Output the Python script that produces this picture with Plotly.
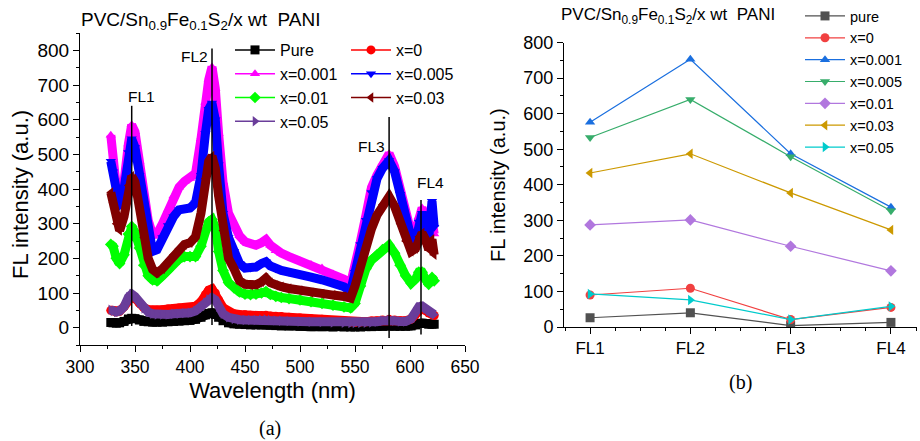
import plotly.graph_objects as go

# ---------------- data: panel (a) spectra ----------------
WAVELENGTH = [328, 330, 333, 336, 340, 344, 347, 350, 354, 358, 362, 366, 370, 375, 380,
              385, 390, 395, 400, 405, 410, 414, 417, 420, 423, 426, 430, 435, 440, 445,
              450, 455, 460, 465, 469, 473, 478, 483, 490, 500, 510, 520, 530, 540, 546,
              550, 555, 560, 565, 570, 575, 581, 586, 591, 596, 601, 605, 608, 611, 614,
              617, 620, 622]

PURE = [15, 14, 13, 14, 18, 25, 27, 26, 22, 18, 17, 16, 16, 16, 17,
        18, 19, 20, 21, 24, 30, 37, 41, 43, 38, 30, 20, 14, 11, 10,
        9, 8, 8, 8, 8, 7, 6, 5, 5, 4, 3, 3, 2, 2, 2,
        2, 2, 3, 3, 4, 4, 5, 4, 4, 4, 5, 8, 12, 13, 12,
        10, 10, 10]
X0 = [50, 48, 45, 48, 60, 82, 90, 85, 70, 58, 52, 50, 50, 52, 54,
      55, 57, 58, 58, 62, 75, 95, 108, 112, 100, 80, 58, 45, 40, 38,
      37, 36, 35, 35, 36, 34, 33, 32, 30, 28, 26, 24, 21, 18, 16,
      15, 16, 17, 19, 20, 22, 24, 22, 20, 20, 25, 38, 52, 56, 50,
      42, 38, 35]
X0001 = [555, 490, 405, 365, 420, 530, 585, 565, 480, 380, 310, 268, 270, 300, 340,
         380, 405, 422, 430, 445, 545, 650, 715, 752, 690, 560, 420, 330, 295, 265,
         248, 240, 238, 245, 254, 238, 222, 215, 205, 192, 182, 172, 155, 140, 127,
         175, 250, 325, 405, 440, 475, 502, 465, 400, 325, 275, 280, 320, 345, 325,
         285, 310, 270]
X0005 = [480, 450, 390, 350, 400, 505, 545, 520, 440, 340, 265, 220, 225, 260, 295,
         320, 340, 345, 345, 360, 440, 560, 630, 648, 600, 470, 330, 260, 220, 185,
         172, 172, 175, 185, 190, 178, 170, 165, 160, 155, 146, 138, 130, 118, 105,
         160, 240, 310, 390, 430, 460, 482, 450, 385, 310, 260, 250, 305, 330, 305,
         255, 365, 290]
X001 = [240, 235, 200, 185, 210, 270, 292, 275, 230, 180, 150, 138, 135, 150, 165,
        185, 198, 205, 205, 205, 235, 280, 305, 312, 290, 220, 165, 130, 115, 103,
        97, 95, 97, 100, 104, 96, 90, 87, 84, 80, 75, 70, 65, 60, 57,
        70, 120, 170, 195, 210, 225, 238, 215, 180, 150, 128, 140, 160, 160, 140,
        125, 145, 135]
X003 = [390, 360, 300, 280, 320, 410, 437, 420, 350, 260, 200, 168, 158, 170, 190,
        210, 228, 240, 245, 262, 330, 430, 480, 495, 460, 380, 280, 200, 170, 135,
        125, 122, 124, 132, 143, 130, 122, 118, 113, 107, 101, 97, 94, 90, 85,
        120, 180, 225, 285, 325, 355, 378, 350, 300, 250, 220, 228, 262, 273, 255,
        225, 255, 210]
X005 = [52, 48, 45, 48, 60, 88, 97, 90, 72, 55, 45, 40, 38, 38, 38,
        40, 40, 42, 43, 48, 60, 72, 82, 86, 80, 60, 40, 30, 25, 23,
        22, 22, 22, 23, 24, 22, 21, 20, 19, 18, 17, 16, 15, 14, 13,
        13, 13, 14, 15, 17, 20, 22, 20, 18, 18, 25, 45, 60, 62, 55,
        48, 42, 38]

SERIES_A_NAMES = ["Pure", "x=0", "x=0.001", "x=0.005", "x=0.01", "x=0.03", "x=0.05"]
SERIES_A = [PURE, X0, X0001, X0005, X001, X003, X005]

FL_PEAK_NM = [347, 420, 581, 610]
FL_LABELS = ["FL1", "FL2", "FL3", "FL4"]

# ---------------- data: panel (b) peak intensities ----------------
CATS = ["FL1", "FL2", "FL3", "FL4"]
B_PURE = [26, 40, 4, 13]
B_X0 = [90, 109, 21, 55]
B_X0001 = [576, 753, 487, 337]
B_X0005 = [533, 640, 479, 327]
B_X001 = [287, 301, 227, 158]
B_X003 = [433, 487, 377, 273]
B_X005 = [93, 76, 21, 58]
SERIES_B_NAMES = ["pure", "x=0", "x=0.001", "x=0.005", "x=0.01", "x=0.03", "x=0.05"]
SERIES_B = [B_PURE, B_X0, B_X0001, B_X0005, B_X001, B_X003, B_X005]

# ---------------- styles ----------------
A_COLORS = ["#000000", "#ff0000", "#ff00ff", "#0000ff", "#00ff00", "#800000", "#6a3d9a"]
A_SYMBOLS = ["square", "circle", "triangle-up", "triangle-down", "diamond", "triangle-left", "triangle-right"]
A_LEGEND = ["legend", "legend2", "legend", "legend2", "legend", "legend2", "legend"]
B_COLORS = ["#515151", "#f14040", "#1a6fdf", "#37ad6b", "#b177de", "#cc9900", "#00cbcc"]

FONT = "Arial, Liberation Sans, sans-serif"
SERIF = "Times New Roman, Liberation Serif, serif"

fig = go.Figure()

for name, ys, col, sym, lg in zip(SERIES_A_NAMES, SERIES_A, A_COLORS, A_SYMBOLS, A_LEGEND):
    fig.add_trace(go.Scatter(x=WAVELENGTH, y=ys, mode="lines", line=dict(color=col, width=9),
                             showlegend=False, hoverinfo="skip", xaxis="x", yaxis="y"))
    fig.add_trace(go.Scatter(x=WAVELENGTH, y=ys, mode="lines+markers", name=name,
                             line=dict(color=col, width=1.5),
                             marker=dict(symbol=sym, size=9, color=col),
                             legend=lg, xaxis="x", yaxis="y"))

for name, ys, col, sym in zip(SERIES_B_NAMES, SERIES_B, B_COLORS, A_SYMBOLS):
    fig.add_trace(go.Scatter(x=list(range(len(CATS))), y=ys, mode="lines+markers", name=name,
                             line=dict(color=col, width=1.2),
                             marker=dict(symbol=sym, size=9, color=col),
                             legend="legend3", xaxis="x2", yaxis="y2"))

# vertical FL marker lines in panel (a)
line_extent = [(5, 640), (8, 805), (-30, 608), (-20, 368)]
label_pos = [(356, 668), (404, 783), (565, 523), (619, 419)]
shapes = []
annotations = []
for wl, (y0, y1), lab, (lx, ly) in zip(FL_PEAK_NM, line_extent, FL_LABELS, label_pos):
    shapes.append(dict(type="line", xref="x", yref="y", x0=wl, x1=wl, y0=y0, y1=y1,
                       line=dict(color="black", width=1.5)))
    annotations.append(dict(xref="x", yref="y", x=lx, y=ly, text=lab, showarrow=False,
                            font=dict(family=FONT, size=15.5, color="black")))

title_txt = "PVC/Sn<sub>0.9</sub>Fe<sub>0.1</sub>S<sub>2</sub>/x wt  PANI"
annotations += [
    dict(xref="paper", yref="paper", x=79/920, y=1-21/441, xanchor="left", yanchor="middle",
         text=title_txt, showarrow=False, font=dict(family=FONT, size=19, color="black")),
    dict(xref="paper", yref="paper", x=559/920, y=1-16/441, xanchor="left", yanchor="middle",
         text=title_txt, showarrow=False, font=dict(family=FONT, size=17, color="black")),
    dict(xref="paper", yref="paper", x=20/920, y=1-195/441, xanchor="center", yanchor="middle",
         text="FL intensity (a.u.)", textangle=-90, showarrow=False,
         font=dict(family=FONT, size=22, color="black")),
    dict(xref="paper", yref="paper", x=498/920, y=1-185/441, xanchor="center", yanchor="middle",
         text="FL intensity (a.u.)", textangle=-90, showarrow=False,
         font=dict(family=FONT, size=20, color="black")),
    dict(xref="paper", yref="paper", x=270/920, y=1-428/441, xanchor="center", yanchor="middle",
         text="(a)", showarrow=False, font=dict(family=SERIF, size=20, color="black")),
    dict(xref="paper", yref="paper", x=740/920, y=1-382/441, xanchor="center", yanchor="middle",
         text="(b)", showarrow=False, font=dict(family=SERIF, size=20, color="black")),
]

axis_common = dict(showgrid=False, zeroline=False, showline=True, linecolor="black", linewidth=1,
                   ticks="outside", ticklen=6, tickwidth=1, tickcolor="black",
                   mirror=False, automargin=False)

legend_common = dict(xref="container", yref="container", xanchor="left", yanchor="top",
                     bgcolor="rgba(0,0,0,0)", itemwidth=40, tracegroupgap=0)

fig.update_layout(
    width=920, height=441, margin=dict(l=0, r=0, t=0, b=0, autoexpand=False),
    paper_bgcolor="white", plot_bgcolor="white",
    font=dict(family=FONT, color="black"),
    xaxis=dict(domain=[80/920, 465/920], range=[300, 650], anchor="y", dtick=50, tick0=300,
               tickfont=dict(size=17.5),
               minor=dict(ticks="outside", ticklen=3, dtick=25, tickcolor="black"),
               title=dict(text="Wavelength (nm)", font=dict(size=22), standoff=6),
               **axis_common),
    yaxis=dict(domain=[1-345/441, 1-33/441], range=[-50, 850], anchor="x", dtick=100, tick0=0,
               tickfont=dict(size=19),
               minor=dict(ticks="outside", ticklen=3, dtick=50, tickcolor="black"),
               **axis_common),
    xaxis2=dict(domain=[564/920, 917/920], range=[-0.26, 3.26], anchor="y2",
                tickvals=list(range(len(CATS))), ticktext=CATS, tickfont=dict(size=17),
                minor=dict(ticks="outside", ticklen=3, dtick=0.25, tick0=0, tickcolor="black"),
                **axis_common),
    yaxis2=dict(domain=[1-327/441, 1-42.5/441], range=[0, 800], anchor="x2", dtick=100, tick0=0,
                tickfont=dict(size=18),
                minor=dict(ticks="outside", ticklen=3, dtick=50, tickcolor="black"),
                **axis_common),
    legend=dict(x=230/920, y=1-33/441, font=dict(size=16), **legend_common),
    legend2=dict(x=346/920, y=1-33/441, font=dict(size=16), **legend_common),
    legend3=dict(x=800/920, y=1+6/441, font=dict(size=14.5), **legend_common),
    shapes=shapes, annotations=annotations,
    showlegend=True,
)

fig.write_html("out.html")
